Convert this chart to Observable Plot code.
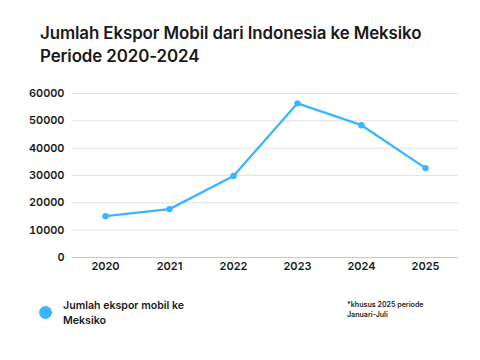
<!DOCTYPE html>
<html>
<head>
<meta charset="utf-8">
<script src="https://cdn.jsdelivr.net/npm/d3@7"></script>
<script src="https://cdn.jsdelivr.net/npm/@observablehq/plot@0.6"></script>
<style>
  html, body { margin: 0; padding: 0; background: #fff; }
  #wrap { position: relative; width: 480px; height: 360px; overflow: hidden; font-family: Inter, "Noto Sans", sans-serif; color: #1a1a1a; }
  #title { position: absolute; left: 40px; top: 22px; font-size: 16.9px; line-height: 23px; font-weight: 600; letter-spacing: -0.1px; white-space: nowrap; }
  #chart { position: absolute; left: 0; top: 80px; }
  #legend-dot { position: absolute; left: 39px; top: 306px; width: 13px; height: 13px; border-radius: 50%; background: #38b6ff; }
  #legend-text { position: absolute; left: 63px; top: 298px; font-size: 10.6px; line-height: 15px; font-weight: 600; white-space: nowrap; }
  #note { position: absolute; left: 347px; top: 300px; font-size: 7.1px; line-height: 10px; font-weight: 600; white-space: nowrap; }
</style>
</head>
<body>
<div id="wrap">
  <div id="title">Jumlah Ekspor Mobil dari Indonesia ke Meksiko<br>Periode 2020-2024</div>
  <div id="chart"></div>
  <div id="legend-dot"></div>
  <div id="legend-text">Jumlah ekspor mobil ke<br>Meksiko</div>
  <div id="note">*khusus 2025 periode<br>Januari-Juli</div>
</div>
<script>
const years = ["2020", "2021", "2022", "2023", "2024", "2025"];
const exports = [15100, 17700, 29800, 56400, 48400, 32700];
const yTicks = [0, 10000, 20000, 30000, 40000, 50000, 60000];
const lineColor = "#38b6ff";

const data = years.map((y, i) => ({year: y, value: exports[i]}));

const plot = Plot.plot({
  width: 480,
  height: 200,
  marginTop: 13,
  marginBottom: 23,
  marginLeft: 72,
  marginRight: 22,
  style: {fontFamily: "Inter, 'Noto Sans', sans-serif", fontSize: "11px", fontWeight: 600, color: "#1a1a1a", background: "transparent"},
  x: {type: "point", domain: years, padding: 0.5, label: null},
  y: {domain: [0, 60000], label: null},
  marks: [
    Plot.gridY(yTicks, {stroke: "#e3e3e3", strokeOpacity: 1, strokeWidth: 1}),
    Plot.ruleY([0], {stroke: "#c8c8c8", strokeWidth: 1.2}),
    Plot.axisY(yTicks, {tickSize: 0, tickPadding: 8, tickFormat: d => String(d), fill: "#1a1a1a"}),
    Plot.axisX(years, {tickSize: 0, tickPadding: 5, fill: "#1a1a1a"}),
    Plot.line(data, {x: "year", y: "value", stroke: lineColor, strokeWidth: 2.3}),
    Plot.dot(data, {x: "year", y: "value", fill: lineColor, r: 3.2})
  ]
});
document.getElementById("chart").appendChild(plot);
</script>
</body>
</html>
